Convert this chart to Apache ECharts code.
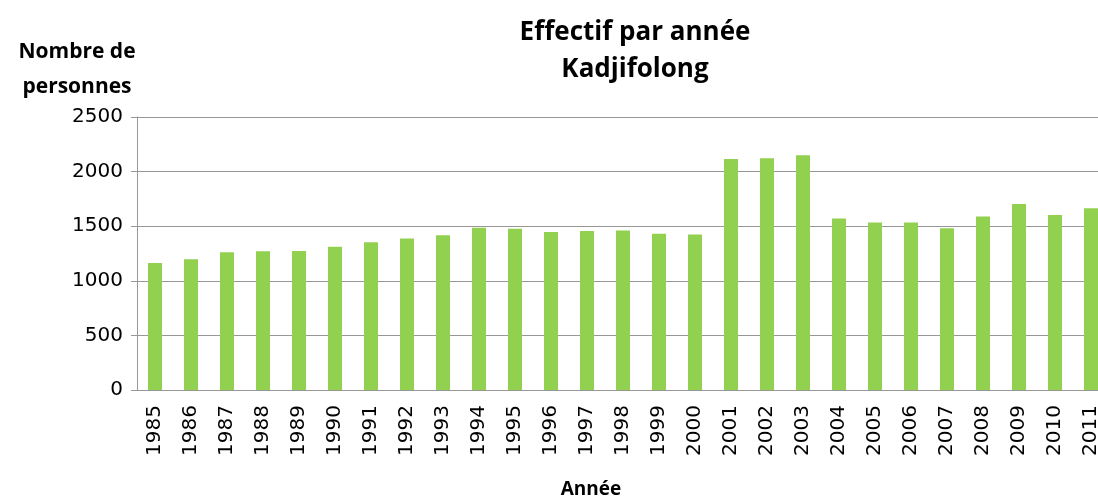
<!DOCTYPE html>
<html>
<head>
<meta charset="utf-8">
<script src="https://cdn.jsdelivr.net/npm/echarts@6/dist/echarts.min.js"></script>
<style>
  html, body { margin: 0; padding: 0; background: #fff; }
  #chart { width: 1098px; height: 500px; }
</style>
</head>
<body>
<div id="chart"></div>
<script>
// années (catégories)
var annees = ["1985","1986","1987","1988","1989","1990","1991","1992","1993","1994",
  "1995","1996","1997","1998","1999","2000","2001","2002","2003","2004",
  "2005","2006","2007","2008","2009","2010","2011"];
// effectif
var effectif = [1164, 1198, 1262, 1271, 1273, 1311, 1354, 1387, 1418, 1485,
  1476, 1448, 1455, 1461, 1430, 1424, 2116, 2122, 2150, 1570,
  1534, 1534, 1482, 1589, 1704, 1603, 1665];
var yTicks = [0, 500, 1000, 1500, 2000, 2500];

var chart = echarts.init(document.getElementById("chart"));
var gris = "#979797";
var option = {
  animation: false,
  title: [
    {
      text: "Effectif par année\nKadjifolong",
      left: 630, top: 9, textAlign: "center",
      textStyle: { fontFamily: "Open Sans", fontWeight: "bold", fontSize: 26, lineHeight: 37, color: "#000" }
    },
    {
      text: "Nombre de\npersonnes",
      left: 72, top: 30, textAlign: "center",
      textStyle: { fontFamily: "Open Sans", fontWeight: "bold", fontSize: 21, lineHeight: 35, color: "#000" }
    },
    {
      text: "Année",
      left: 586, top: 475, textAlign: "center",
      textStyle: { fontFamily: "Open Sans", fontWeight: "bold", fontSize: 19, color: "#000" }
    }
  ],
  // la dernière catégorie dépasse du cadre, comme sur l'original
  grid: { left: 137, top: 117, width: 972, bottom: 110, containLabel: false, outerBoundsMode: "none" },
  xAxis: {
    type: "category",
    data: annees,
    axisLine: { lineStyle: { color: gris } },
    axisTick: { length: 6, lineStyle: { color: gris } },
    axisLabel: { rotate: 90, interval: 0, margin: 15, fontFamily: "DejaVu Sans", fontSize: 20, color: "#000" }
  },
  yAxis: {
    type: "value",
    min: yTicks[0], max: yTicks[yTicks.length - 1], interval: 500,
    axisLine: { show: true, lineStyle: { color: gris } },
    axisTick: { show: true, length: 6, lineStyle: { color: gris } },
    splitLine: { lineStyle: { color: gris, width: 1 } },
    axisLabel: { margin: 14, fontFamily: "DejaVu Sans", fontSize: 20, color: "#000",
      formatter: function (v) { return String(v); } }
  },
  series: [
    {
      type: "bar",
      data: effectif,
      barWidth: 14,
      itemStyle: { color: "#92D050" }
    }
  ]
};
chart.setOption(option);
</script>
</body>
</html>
